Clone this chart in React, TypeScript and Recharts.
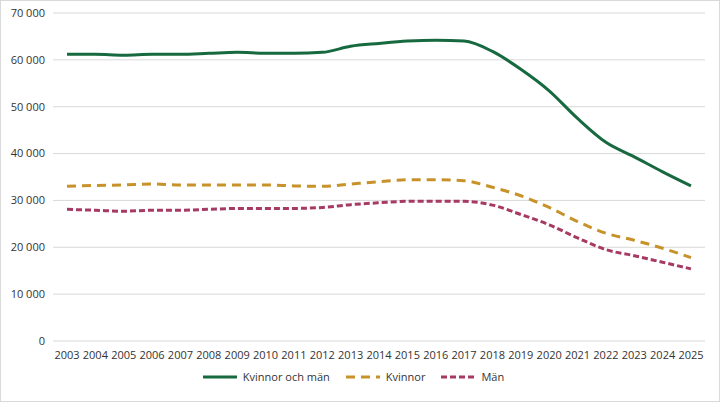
import { LineChart, Line, XAxis, YAxis, CartesianGrid, Legend } from "recharts";

const years = [
  "2003", "2004", "2005", "2006", "2007", "2008", "2009", "2010", "2011", "2012", "2013", "2014",
  "2015", "2016", "2017", "2018", "2019", "2020", "2021", "2022", "2023", "2024", "2025",
];

const totalt = [
  61200, 61200, 61000, 61200, 61200, 61400, 61600, 61400, 61400, 61600, 62900, 63500,
  64000, 64200, 64000, 61800, 58000, 53400, 47500, 42400, 39300, 36100, 33100,
];

const kvinnor = [
  33000, 33200, 33300, 33500, 33300, 33300, 33300, 33300, 33100, 33000, 33500, 34000,
  34400, 34400, 34200, 32800, 31000, 28500, 25500, 23000, 21500, 19800, 17800,
];

const man = [
  28100, 27900, 27700, 27900, 27900, 28100, 28300, 28300, 28300, 28500, 29100, 29500,
  29800, 29800, 29800, 29000, 27000, 24800, 22000, 19500, 18200, 16800, 15400,
];

const yTicks = [0, 10000, 20000, 30000, 40000, 50000, 60000, 70000];

const data = years.map((year, i) => ({
  year,
  totalt: totalt[i],
  kvinnor: kvinnor[i],
  man: man[i],
}));

const GREEN = "#17693f";
const GOLD = "#c8922a";
const MAROON = "#a63a62";
const FONT = "'Open Sans', 'Noto Sans', sans-serif";

const fmt = (v: number) => v.toLocaleString("en-US").replace(/,/g, " ");

const legendItems = [
  { label: "Kvinnor och män", color: GREEN, dash: undefined },
  { label: "Kvinnor", color: GOLD, dash: "9 6" },
  { label: "Män", color: MAROON, dash: "6 3" },
];

function ChartLegend() {
  return (
    <div style={{ display: "flex", justifyContent: "center", gap: 15, fontFamily: FONT, fontSize: 11, color: "#333" }}>
      {legendItems.map((it) => (
        <div key={it.label} style={{ display: "flex", alignItems: "center", gap: 5 }}>
          <svg width={36} height={8}>
            <line x1={1} y1={4} x2={35} y2={4} stroke={it.color} strokeWidth={3} strokeDasharray={it.dash} />
          </svg>
          <span>{it.label}</span>
        </div>
      ))}
    </div>
  );
}

export default function App() {
  return (
    <div
      style={{
        position: "absolute",
        left: 0,
        top: 0,
        width: 720,
        height: 402,
        border: "1px solid #d9d9d9",
        boxSizing: "border-box",
        background: "#fff",
      }}
    >
      <LineChart
        width={718}
        height={400}
        data={data}
        margin={{ top: 12, right: 14, left: 0, bottom: 17 }}
      >
        <CartesianGrid vertical={false} stroke="#d9d9d9" />
        <XAxis
          dataKey="year"
          axisLine={false}
          tickLine={false}
          interval={0}
          padding={{ left: 14, right: 14 }}
          tick={{ fontSize: 11, fill: "#333", fontFamily: FONT, dy: 2 }}
          height={28}
        />
        <YAxis
          domain={[0, 70000]}
          ticks={yTicks}
          tickFormatter={fmt}
          axisLine={false}
          tickLine={false}
          width={52}
          tick={{ fontSize: 11, fill: "#333", fontFamily: FONT }}
        />
        <Legend verticalAlign="bottom" content={<ChartLegend />} />
        <Line type="monotone" dataKey="totalt" stroke={GREEN} strokeWidth={3} dot={false} isAnimationActive={false} />
        <Line type="monotone" dataKey="kvinnor" stroke={GOLD} strokeWidth={3} strokeDasharray="9 6" dot={false} isAnimationActive={false} />
        <Line type="monotone" dataKey="man" stroke={MAROON} strokeWidth={3} strokeDasharray="6 3" dot={false} isAnimationActive={false} />
      </LineChart>
    </div>
  );
}
